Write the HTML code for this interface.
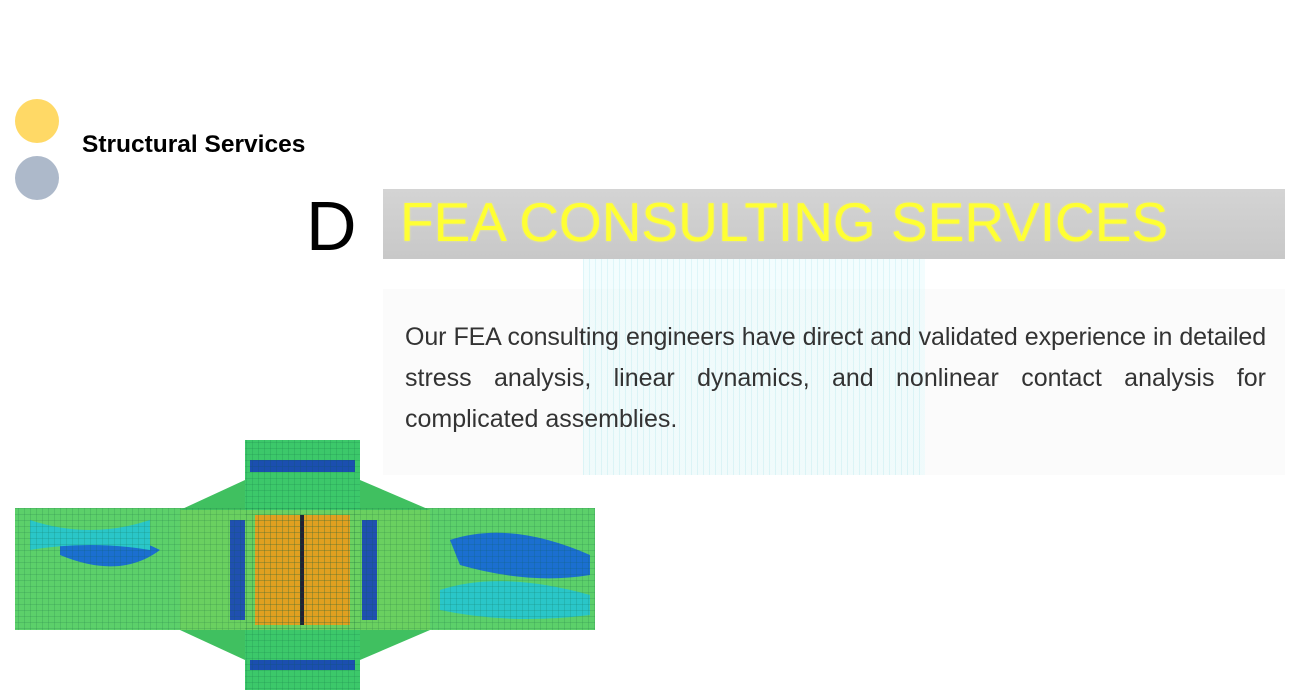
<!DOCTYPE html>
<html><head><meta charset="utf-8"><style>
body{margin:0;width:1302px;height:691px;background:#fff;position:relative;overflow:hidden;font-family:"Liberation Sans",sans-serif}
.a{position:absolute}
.j{display:block;text-align:justify;text-align-last:justify;white-space:nowrap}
</style></head><body>
<div class="a" style="left:15px;top:99px;width:44px;height:44px;border-radius:50%;background:#FFD966"></div>
<div class="a" style="left:15px;top:156px;width:44px;height:44px;border-radius:50%;background:#ADB9CA"></div>
<div class="a" style="left:82px;top:131px;font-size:24.5px;font-weight:bold;color:#000;line-height:28px">Structural Services</div>
<div class="a" style="left:306px;top:186px;font-size:70px;color:#000;line-height:80px">D</div>
<div class="a" style="left:383px;top:189px;width:902px;height:70px;background:linear-gradient(#d4d4d4,#c8c8c8)"></div>
<div class="a" style="left:400px;top:191px;font-size:55px;color:#ffff33;line-height:62px;text-shadow:0 0 2px #eeee88">FEA CONSULTING SERVICES</div>
<div class="a" style="left:383px;top:289px;width:902px;height:186px;background:#fbfbfb"></div>
<div class="a" style="left:583px;top:259px;width:342px;height:216px;background:repeating-linear-gradient(90deg,rgba(120,220,230,.35) 0 1px,rgba(220,250,252,.5) 1px 6px);opacity:.7"></div>
<div class="a" style="left:405px;top:317px;width:861px;font-size:25px;line-height:41px;color:#333"><span class="j" style="letter-spacing:-0.12px;word-spacing:-0.5px">Our FEA consulting engineers have direct and validated experience in detailed</span><span class="j">stress analysis, linear dynamics, and nonlinear contact analysis for</span><span style="display:block">complicated assemblies.</span></div>
<svg class="a" style="left:0;top:430px" width="610" height="261">
<defs><pattern id="m" width="6" height="6" patternUnits="userSpaceOnUse"><path d="M0 0H6M0 0V6" stroke="#0a5a3a" stroke-width=".5" opacity=".6"/></pattern></defs>
<rect x="15" y="78" width="580" height="122" fill="#5cd06a"/>
<path d="M60 110q40 -20 100 10q-40 30 -100 5z M450 110q60 -20 140 15v20q-60 10 -130 -10z" fill="#1b6fd0"/>
<path d="M30 90q60 20 120 0v30q-60 -10 -120 0z M440 160q60 -20 150 5v20q-80 10 -150 -5z" fill="#2ac6c8"/>
<polygon points="245,50 180,80 430,80 360,50" fill="#40c060"/>
<polygon points="180,200 245,230 360,230 430,200" fill="#40c060"/>
<rect x="245" y="10" width="115" height="250" fill="#3cc86a"/>
<rect x="180" y="80" width="250" height="120" fill="#6ad060"/>
<rect x="255" y="85" width="95" height="110" fill="#e0a020"/>
<rect x="300" y="85" width="4" height="110" fill="#223"/>
<rect x="230" y="90" width="15" height="100" fill="#2050b0"/>
<rect x="362" y="90" width="15" height="100" fill="#2050b0"/>
<rect x="250" y="30" width="105" height="12" fill="#1b4fb0"/>
<rect x="250" y="230" width="105" height="10" fill="#1b4fb0"/>
<rect x="15" y="78" width="580" height="122" fill="url(#m)"/>
<rect x="245" y="10" width="115" height="250" fill="url(#m)"/>
</svg>
</body></html>
